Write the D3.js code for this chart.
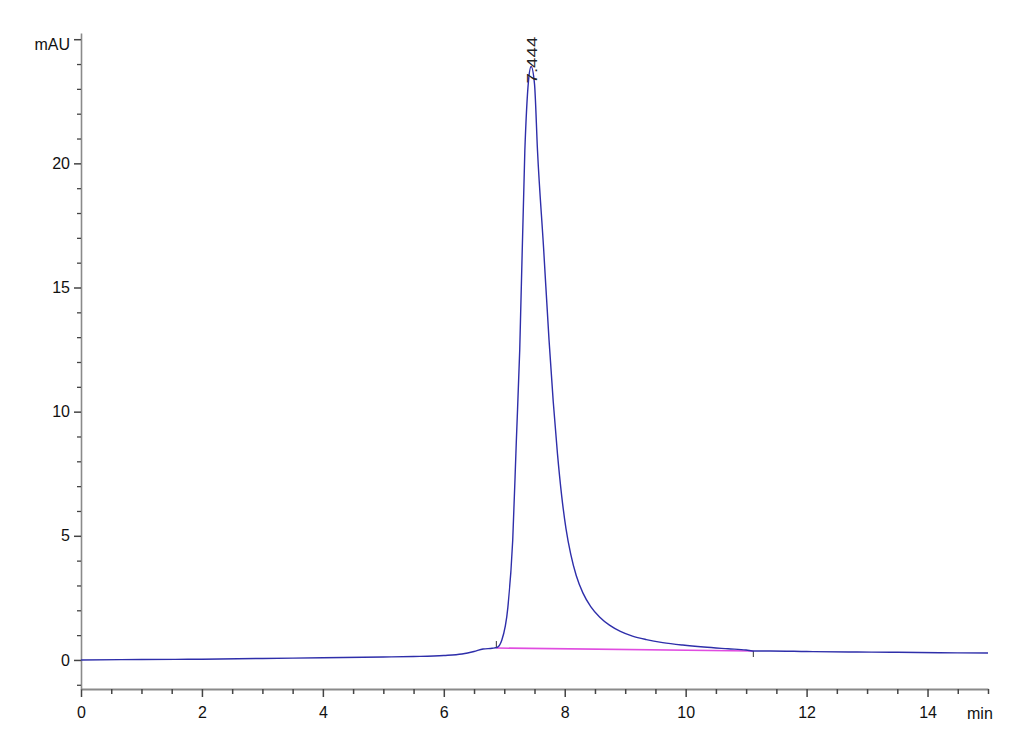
<!DOCTYPE html>
<html>
<head>
<meta charset="utf-8">
<script src="https://cdn.jsdelivr.net/npm/d3@7"></script>
<style>
html,body{margin:0;padding:0;background:#fff;}
svg{display:block;}
text{font-family:"Liberation Sans Narrow","Liberation Sans",Arial,sans-serif;}
</style>
</head>
<body>
<svg id="chart" width="1030" height="755"></svg>
<script>
// ---- data ----
const times = [0, 1, 2, 3, 4, 5, 5.5, 6, 6.3, 6.5, 6.65, 6.8, 6.88, 6.96, 7.06, 7.14, 7.2, 7.256, 7.34, 7.4, 7.444, 7.5, 7.55, 7.65, 7.74, 7.81, 7.88, 7.95, 8.02, 8.10, 8.19, 8.30, 8.43, 8.58, 8.74, 8.92, 9.12, 9.35, 9.62, 9.95, 10.3, 10.7, 11.0, 11.14, 11.4, 12, 12.7, 13.5, 14.2, 15];
const signal = [0, 0.02, 0.03, 0.06, 0.09, 0.12, 0.14, 0.18, 0.24, 0.34, 0.44, 0.47, 0.5, 0.8, 2.13, 4.83, 8.85, 12.5, 20.5, 23.3, 23.9, 23.2, 20.5, 16.6, 12.9, 10.4, 8.3, 6.6, 5.3, 4.25, 3.4, 2.7, 2.15, 1.72, 1.40, 1.15, 0.96, 0.82, 0.70, 0.60, 0.52, 0.45, 0.40, 0.36, 0.36, 0.34, 0.32, 0.31, 0.29, 0.28];
const baselineTimes = [6.87, 11.12];
const baselineValues = [0.48, 0.36];
const peakTime = 7.444;
const peakValue = 23.9;
const peakLabel = "7.444";
const xMajorTicks = [0, 2, 4, 6, 8, 10, 12, 14];
const xMinorTicks = d3.range(0, 15.01, 0.5).filter(v => v % 2 !== 0);
const yMajorTicks = [0, 5, 10, 15, 20];
const yMinorTicks = d3.range(-1, 26, 1).filter(v => v % 5 !== 0);
const yTopTick = 25;
const yUnit = "mAU";
const xUnit = "min";

// ---- scales ----
const svg = d3.select("#chart");
const x = d3.scaleLinear().domain([0, 15]).range([81, 988]);
const y = d3.scaleLinear().domain([-1.17, 25.25]).range([689, 33]);

const axisColor = "#8a8a8a";
const tickColor = "#444";

// x axis
const gx = svg.append("g").attr("transform", `translate(0,${y.range()[0]})`);
gx.call(d3.axisBottom(x).tickValues(xMajorTicks).tickSize(8).tickSizeOuter(0).tickPadding(10).tickFormat(d3.format("d")));
gx.select(".domain").attr("stroke", axisColor).attr("stroke-width", 2);
gx.selectAll(".tick line").attr("stroke", tickColor).attr("stroke-width", 1.5);
gx.selectAll(".tick text").attr("font-size", 16).attr("fill", "#111")
  .attr("font-family", '"Liberation Sans Narrow","Liberation Sans",Arial,sans-serif');
const gxm = svg.append("g").attr("transform", `translate(0,${y.range()[0]})`);
gxm.call(d3.axisBottom(x).tickValues(xMinorTicks).tickSize(5).tickSizeOuter(0).tickFormat(""));
gxm.select(".domain").remove();
gxm.selectAll(".tick line").attr("stroke", tickColor).attr("stroke-width", 1.5);

// y axis
const gy = svg.append("g").attr("transform", `translate(${x.range()[0]},0)`);
gy.call(d3.axisLeft(y).tickValues(yMajorTicks.concat([yTopTick])).tickSize(7).tickSizeOuter(0).tickPadding(4)
  .tickFormat(d => d === yTopTick ? "" : d3.format("d")(d)));
gy.select(".domain").attr("stroke", axisColor).attr("stroke-width", 1.6);
gy.selectAll(".tick line").attr("stroke", tickColor).attr("stroke-width", 1.5);
gy.selectAll(".tick text").attr("font-size", 16).attr("fill", "#111")
  .attr("font-family", '"Liberation Sans Narrow","Liberation Sans",Arial,sans-serif');
const gym = svg.append("g").attr("transform", `translate(${x.range()[0]},0)`);
gym.call(d3.axisLeft(y).tickValues(yMinorTicks).tickSize(4).tickSizeOuter(0).tickFormat(""));
gym.select(".domain").remove();
gym.selectAll(".tick line").attr("stroke", tickColor).attr("stroke-width", 1.3);

// unit labels
svg.append("text").attr("x", 70).attr("y", y(yTopTick) + 11).attr("text-anchor", "end")
  .attr("font-size", 16).attr("fill", "#111").text(yUnit);
svg.append("text").attr("x", 967).attr("y", y.range()[0] + 30).attr("text-anchor", "start")
  .attr("font-size", 16).attr("fill", "#111").text(xUnit);

// baseline (integration)
svg.append("line")
  .attr("x1", x(baselineTimes[0])).attr("y1", y(baselineValues[0]))
  .attr("x2", x(baselineTimes[1])).attr("y2", y(baselineValues[1]))
  .attr("stroke", "#e04ce0").attr("stroke-width", 1.6);
// integration markers
svg.append("line")
  .attr("x1", x(baselineTimes[0])).attr("x2", x(baselineTimes[0]))
  .attr("y1", y(baselineValues[0]) - 7).attr("y2", y(baselineValues[0]))
  .attr("stroke", "#555").attr("stroke-width", 1.2);
svg.append("line")
  .attr("x1", x(baselineTimes[1])).attr("x2", x(baselineTimes[1]))
  .attr("y1", y(baselineValues[1])).attr("y2", y(baselineValues[1]) + 6)
  .attr("stroke", "#555").attr("stroke-width", 1.2);

// signal trace
const pts = times.map((t, i) => [t, signal[i]]);
svg.append("path").datum(pts)
  .attr("fill", "none").attr("stroke", "#2e2eaa").attr("stroke-width", 1.4)
  .attr("d", d3.line().x(d => x(d[0])).y(d => y(d[1])).curve(d3.curveMonotoneX));

// peak label
svg.append("text")
  .attr("transform", `translate(${x(peakTime) + 6},${y(peakValue) + 17}) scale(1,1.25) rotate(-90)`)
  .attr("font-family", '"Liberation Sans",Arial,sans-serif')
  .attr("font-size", 15).attr("fill", "#222").attr("text-anchor", "start")
  .text(peakLabel);
</script>
</body>
</html>
